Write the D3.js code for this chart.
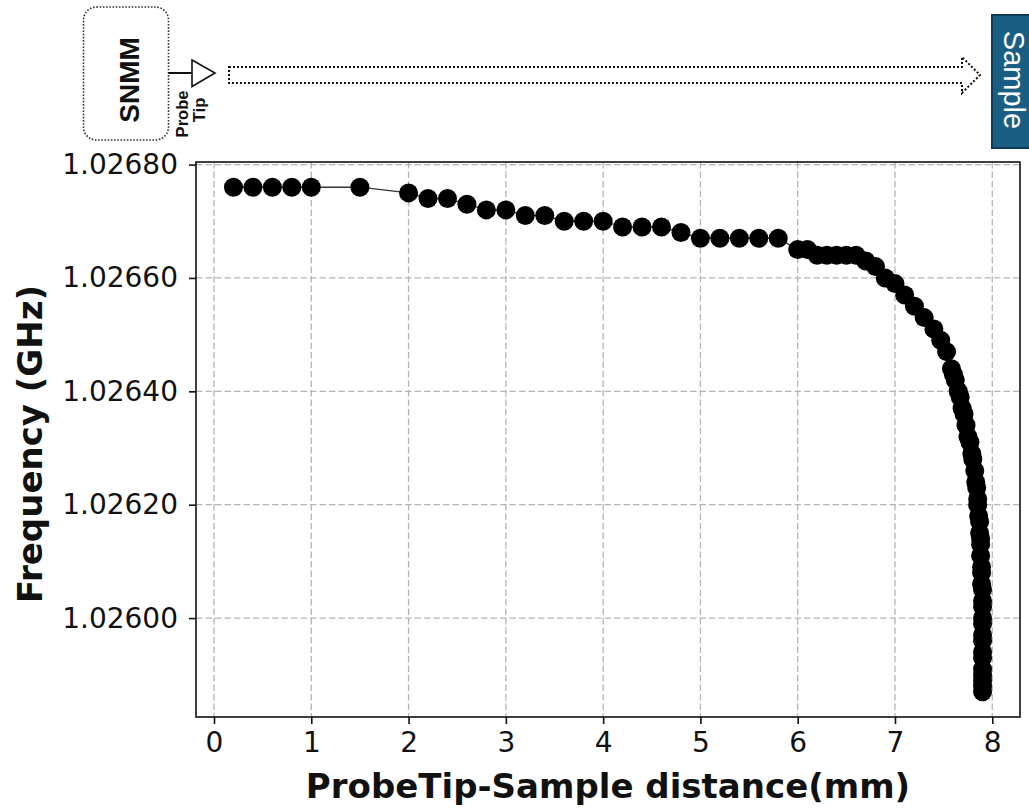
<!DOCTYPE html>
<html>
<head>
<meta charset="utf-8">
<script src="https://cdn.jsdelivr.net/npm/d3@7"></script>
<style>
  body { margin: 0; background: #fff; }
  svg { display: block; }
</style>
</head>
<body>
<svg id="fig" width="1029" height="809"></svg>
<script>
// Resonance frequency of the SNMM probe as the tip approaches the sample
const distanceMm = [
  0.2, 0.4, 0.6, 0.8, 1.0, 1.5, 2.0,
  2.2, 2.4, 2.6, 2.8, 3.0, 3.2, 3.4, 3.6, 3.8, 4.0, 4.2, 4.4, 4.6, 4.8, 5.0, 5.2, 5.4, 5.6, 5.8,
  6.0, 6.1, 6.2, 6.3, 6.4, 6.5, 6.6, 6.7, 6.8, 6.9, 7.0, 7.1, 7.2, 7.3, 7.4, 7.47, 7.53,
  7.58, 7.60, 7.62, 7.65, 7.67, 7.69, 7.71, 7.73, 7.75, 7.77, 7.79, 7.80, 7.82, 7.83, 7.84,
  7.85, 7.85, 7.86, 7.87, 7.87, 7.88, 7.88, 7.88,
  7.89, 7.89, 7.89, 7.90, 7.90, 7.90, 7.90, 7.90, 7.90, 7.90, 7.90, 7.90, 7.90, 7.90, 7.90, 7.90, 7.90
];
const frequencyGHz = [
  1.02676, 1.02676, 1.02676, 1.02676, 1.02676, 1.02676, 1.02675,
  1.02674, 1.02674, 1.02673, 1.02672, 1.02672, 1.02671, 1.02671, 1.02670, 1.02670, 1.02670, 1.02669, 1.02669, 1.02669, 1.02668, 1.02667, 1.02667, 1.02667, 1.02667, 1.02667,
  1.02665, 1.02665, 1.02664, 1.02664, 1.02664, 1.02664, 1.02664, 1.02663, 1.02662, 1.02660, 1.02659, 1.02657, 1.02655, 1.02653, 1.02651, 1.02649, 1.02647,
  1.02644, 1.02643, 1.02642, 1.02640, 1.02639, 1.02637, 1.02636, 1.02634, 1.02632, 1.02631, 1.02629, 1.02628, 1.02626, 1.02624, 1.02623,
  1.02621, 1.02620, 1.02618, 1.02617, 1.02615, 1.02614, 1.02613, 1.02611,
  1.02609, 1.02608, 1.02606, 1.02605, 1.02603, 1.02602, 1.02600, 1.02599, 1.02597, 1.02596, 1.02594, 1.02593, 1.02591, 1.02590, 1.02589, 1.02588, 1.02587
];
const xTicks = [0, 1, 2, 3, 4, 5, 6, 7, 8];
const yTicks = [1.02600, 1.02620, 1.02640, 1.02660, 1.02680];
const xLabel = "ProbeTip-Sample distance(mm)";
const yLabel = "Frequency (GHz)";
const instrumentName = "SNMM";
const probeLines = ["Probe", "Tip"];
const sampleName = "Sample";

const svg = d3.select("#fig");
const plot = { left: 196, right: 1020, top: 162, bottom: 717 };
const tickFont = "'DejaVu Sans', sans-serif";

// axis limits padded by 5% of the data span on each side
function padded(ext) {
  const p = (ext[1] - ext[0]) * 0.05;
  return [ext[0] - p, ext[1] + p];
}
const x = d3.scaleLinear().domain(padded(d3.extent(distanceMm))).range([plot.left, plot.right]);
const y = d3.scaleLinear().domain(padded(d3.extent(frequencyGHz))).range([plot.bottom, plot.top]);

// ---------- setup sketch above the axes ----------
const sketch = svg.append("g");
sketch.append("rect")
  .attr("x", 83.5).attr("y", 7).attr("width", 85).attr("height", 133)
  .attr("rx", 13).attr("ry", 13)
  .attr("fill", "none").attr("stroke", "#333").attr("stroke-width", 1.6)
  .attr("stroke-dasharray", "1.6,1.6");
sketch.append("text")
  .attr("transform", "translate(138.5,80) rotate(-90)")
  .attr("text-anchor", "middle")
  .attr("font-family", "'Liberation Sans', Arial, sans-serif")
  .attr("font-weight", "bold").attr("font-size", 28)
  .attr("fill", "#111")
  .text(instrumentName);
sketch.append("line")
  .attr("x1", 168.5).attr("y1", 73).attr("x2", 192).attr("y2", 73)
  .attr("stroke", "#111").attr("stroke-width", 2);
sketch.append("path")
  .attr("d", "M192,60 L215,73 L192,86.5 Z")
  .attr("fill", "#fff").attr("stroke", "#111").attr("stroke-width", 1.6)
  .attr("stroke-linejoin", "miter");
sketch.append("text")
  .attr("transform", "translate(188,114) rotate(-90)")
  .attr("text-anchor", "middle")
  .attr("font-family", "'Liberation Sans', Arial, sans-serif")
  .attr("font-weight", "bold").attr("font-size", 16.5)
  .attr("fill", "#111")
  .text(probeLines[0]);
sketch.append("text")
  .attr("transform", "translate(205,110) rotate(-90)")
  .attr("text-anchor", "middle")
  .attr("font-family", "'Liberation Sans', Arial, sans-serif")
  .attr("font-weight", "bold").attr("font-size", 16.5)
  .attr("fill", "#111")
  .text(probeLines[1]);
sketch.append("path")
  .attr("d", "M229,67 L962,67 L962,57 L980,75 L962,93 L962,83 L229,83 Z")
  .attr("fill", "none").attr("stroke", "#111").attr("stroke-width", 2)
  .attr("stroke-dasharray", "2,2");
sketch.append("rect")
  .attr("x", 992).attr("y", 15).attr("width", 45).attr("height", 133)
  .attr("fill", "#1b5e83").attr("stroke", "#0e3c57").attr("stroke-width", 2);
sketch.append("text")
  .attr("transform", "translate(1003.5,80) rotate(90)")
  .attr("text-anchor", "middle")
  .attr("font-family", "'Liberation Sans', Arial, sans-serif")
  .attr("font-size", 29)
  .attr("fill", "#fff")
  .text(sampleName);

// ---------- grid ----------
const grid = svg.append("g").attr("stroke", "#b5b5b5").attr("stroke-width", 1.3)
  .attr("stroke-dasharray", "6.5,3");
grid.selectAll(".gx").data(xTicks).join("line")
  .attr("x1", d => x(d)).attr("x2", d => x(d))
  .attr("y1", plot.top).attr("y2", plot.bottom);
grid.selectAll(".gy").data(yTicks).join("line")
  .attr("x1", plot.left).attr("x2", plot.right)
  .attr("y1", d => y(d)).attr("y2", d => y(d));

// ---------- data ----------
const pts = distanceMm.map((d, i) => [d, frequencyGHz[i]]);
svg.append("path")
  .datum(pts)
  .attr("d", d3.line().x(d => x(d[0])).y(d => y(d[1])))
  .attr("fill", "none").attr("stroke", "#333").attr("stroke-width", 1.3);
svg.append("g").selectAll("circle").data(pts).join("circle")
  .attr("cx", d => x(d[0])).attr("cy", d => y(d[1])).attr("r", 9.5)
  .attr("fill", "#000");

// ---------- frame and axes ----------
svg.append("rect")
  .attr("x", plot.left).attr("y", plot.top)
  .attr("width", plot.right - plot.left).attr("height", plot.bottom - plot.top)
  .attr("fill", "none").attr("stroke", "#111").attr("stroke-width", 1.6);

const xAxis = svg.append("g")
  .attr("transform", `translate(0,${plot.bottom})`)
  .call(d3.axisBottom(x).tickValues(xTicks).tickFormat(d3.format("d")).tickSize(7).tickPadding(8));
const yAxis = svg.append("g")
  .attr("transform", `translate(${plot.left},0)`)
  .call(d3.axisLeft(y).tickValues(yTicks).tickFormat(d3.format(".5f")).tickSize(7).tickPadding(11));
[xAxis, yAxis].forEach(a => {
  a.select(".domain").remove();
  a.selectAll(".tick line").attr("stroke", "#111").attr("stroke-width", 1.6);
  a.selectAll(".tick text").attr("font-family", tickFont).attr("font-size", 28).attr("fill", "#111");
});

svg.append("text")
  .attr("x", 608).attr("y", 798)
  .attr("text-anchor", "middle")
  .attr("font-family", tickFont).attr("font-weight", "bold").attr("font-size", 34)
  .attr("fill", "#111")
  .text(xLabel);
svg.append("text")
  .attr("transform", "translate(42,444) rotate(-90)")
  .attr("text-anchor", "middle")
  .attr("font-family", tickFont).attr("font-weight", "bold").attr("font-size", 34)
  .attr("fill", "#111")
  .text(yLabel);
</script>
</body>
</html>
